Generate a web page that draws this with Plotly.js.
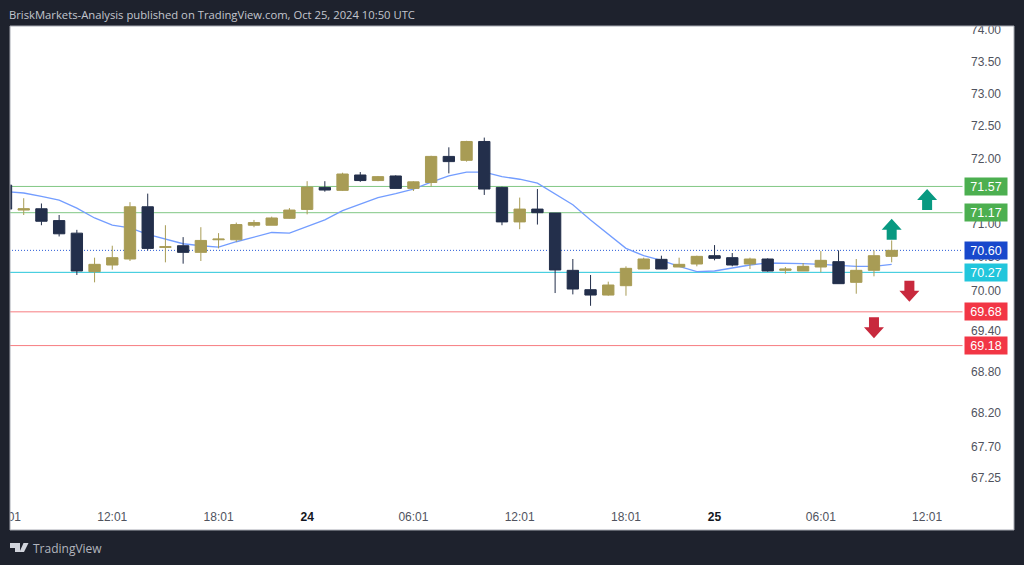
<!DOCTYPE html>
<html><head><meta charset="utf-8">
<script src="https://cdn.plot.ly/plotly-3.0.1.min.js"></script>
<style>html,body{margin:0;padding:0;background:#1e222d}#c{width:1024px;height:565px}</style>
</head><body><div id="c"></div>
<script>
const categories = [
"10-23 06:01","10-23 07:01","10-23 08:01","10-23 09:01","10-23 10:01","10-23 11:01","10-23 12:01","10-23 13:01","10-23 14:01","10-23 15:01","10-23 16:01","10-23 17:01","10-23 18:01","10-23 19:01","10-23 20:01","10-23 21:01","10-23 22:01",
"10-24 00:01","10-24 01:01","10-24 02:01","10-24 03:01","10-24 04:01","10-24 05:01","10-24 06:01","10-24 07:01","10-24 08:01","10-24 09:01","10-24 10:01","10-24 11:01","10-24 12:01","10-24 13:01","10-24 14:01","10-24 15:01","10-24 16:01","10-24 17:01","10-24 18:01","10-24 19:01","10-24 20:01","10-24 21:01","10-24 22:01",
"10-25 00:01","10-25 01:01","10-25 02:01","10-25 03:01","10-25 04:01","10-25 05:01","10-25 06:01","10-25 07:01","10-25 08:01","10-25 09:01","10-25 10:01","10-25 11:01","10-25 12:01","10-25 13:01","10-25 14:01","10-25 15:01","10-25 16:01","10-25 17:01","10-25 18:01"];
const barCount = 51;
const open  = [71.59,71.21,71.23,71.05,70.86,70.28,70.38,70.47,71.26,70.645,70.67,70.57,70.76,70.76,70.98,70.98,71.085,71.22,71.555,71.51,71.745,71.66,71.73,71.54,71.63,72.03,71.97,72.26,71.555,71.03,71.225,71.165,70.30,70.01,69.93,70.07,70.32,70.465,70.35,70.395,70.52,70.49,70.395,70.47,70.30,70.29,70.35,70.43,70.12,70.30,70.51];
const high  = [71.60,71.39,71.31,71.135,70.91,70.49,70.67,71.33,71.46,70.98,70.80,70.95,70.86,71.02,71.06,71.11,71.24,71.65,71.65,71.78,71.79,71.73,71.74,71.65,72.04,72.17,72.27,72.32,71.565,71.40,71.53,71.165,70.47,70.23,70.13,70.36,70.49,70.52,70.49,70.52,70.68,70.56,70.49,70.48,70.35,70.41,70.59,70.60,70.47,70.60,70.75];
const low   = [71.21,71.135,70.98,70.81,70.23,70.12,70.31,70.44,70.60,70.42,70.40,70.44,70.63,70.73,70.95,70.98,71.08,71.145,71.49,71.50,71.64,71.65,71.54,71.50,71.57,71.77,71.95,71.44,70.98,70.92,70.99,69.96,69.94,69.77,69.92,69.92,70.32,70.32,70.35,70.36,70.45,70.36,70.32,70.28,70.25,70.29,70.27,70.10,69.95,70.21,70.42];
const close = [71.225,71.23,71.04,70.85,70.29,70.39,70.49,71.26,70.63,70.655,70.57,70.75,70.77,70.99,71.02,71.09,71.21,71.56,71.515,71.76,71.66,71.72,71.54,71.64,72.03,71.95,72.26,71.53,71.03,71.225,71.17,70.305,70.02,69.93,70.08,70.33,70.47,70.32,70.39,70.51,70.48,70.38,70.47,70.29,70.32,70.36,70.45,70.10,70.30,70.52,70.60];
const ema   = [71.49,71.47,71.42,71.36,71.24,71.09,70.98,70.94,70.84,70.77,70.70,70.67,70.65,70.73,70.80,70.87,70.86,70.96,71.06,71.20,71.30,71.40,71.46,71.53,71.635,71.73,71.79,71.79,71.72,71.68,71.62,71.46,71.29,71.06,70.84,70.63,70.52,70.45,70.36,70.28,70.29,70.34,70.38,70.41,70.41,70.40,70.39,70.37,70.36,70.36,70.39];
const levels = [71.57,71.17,70.60,70.27,69.68,69.18];
const levelColors = ["#81c784","#81c784","#2a5bd7","#26c6da","#f77c80","#f77c80"];
const tagColors = ["#4caf50","#4caf50","#1848cc","#22c6dc","#f23645","#f23645"];
const yTicks = [74,73.5,73,72.5,72,71,70.5,70,69.4,68.8,68.2,67.7,67.25];
const xTickCats = ["10-23 06:01","10-23 12:01","10-23 18:01","10-24 00:01","10-24 06:01","10-24 12:01","10-24 18:01","10-25 00:01","10-25 06:01","10-25 12:01"];
const xTickText = ["06:01","12:01","18:01","<b style='color:#131722'>24</b>","06:01","12:01","18:01","<b style='color:#131722'>25</b>","06:01","12:01"];
const arrowCats = ["10-25 10:01","10-25 12:01","10-25 11:01","10-25 09:01"];
const arrowTips = [71.08,71.53,69.83,69.29];
const arrowDirs = [1,1,-1,-1];

const DARK="#1e222d", W=1024, H=565, T=26, B=530;
const bx=x=>x/W, by=y=>(B-y)/(B-T);
const rect=(x0,y0,x1,y1,fill,line)=>({type:'rect',xref:'paper',yref:'paper',layer:'above',x0:bx(x0),x1:bx(x1),y0:by(y0),y1:by(y1),fillcolor:fill,line:{width:line?1:0,color:line||fill}});
const poly=(pts,fill)=>({type:'path',xref:'paper',yref:'paper',layer:'above',fillcolor:fill,line:{width:0},path:'M'+pts.map(p=>bx(p[0])+','+by(p[1])).join('L')+'Z'});
const arrowPath=d=>'M0,0L10,'+(-11*d)+'L5,'+(-11*d)+'L5,'+(-21*d)+'L-5,'+(-21*d)+'L-5,'+(-11*d)+'L-10,'+(-11*d)+'Z';

const endCat = categories[54];
const traces = levels.map((v,i)=>({type:'scatter',mode:'lines',x:[categories[0],endCat],y:[v,v],hoverinfo:'skip',
  line:{color:levelColors[i],width:1,dash:v===70.60?'1px,2px':'solid'}}));
traces.push({type:'scatter',mode:'lines',x:categories.slice(0,barCount),y:ema,line:{color:'#739dff',width:1.3},hoverinfo:'skip'});
traces.push({type:'candlestick',x:categories.slice(0,barCount),open,high,low,close,whiskerwidth:0,zorder:1,
  increasing:{line:{color:'#a89c55',width:1},fillcolor:'#a89c55'},
  decreasing:{line:{color:'#232f4b',width:1},fillcolor:'#232f4b'}});

const annotations = levels.map((v,i)=>({xref:'paper',yref:'y',x:bx(964),y:Math.log10(v),xanchor:'left',yanchor:'middle',text:v.toFixed(2),showarrow:false,
  bgcolor:tagColors[i],width:40,height:15,borderpad:1,font:{family:'Liberation Sans',size:12.5,color:'#fff'},align:'center'}));
annotations.push({xref:'paper',yref:'paper',x:bx(6.5),y:by(14),xanchor:'left',yanchor:'middle',showarrow:false,align:'left',
  text:'BriskMarkets-Analysis published on TradingView.com, Oct 25, 2024 10:50 UTC',font:{family:'Open Sans',size:11.25,color:'#c3c6ce'}});
annotations.push({xref:'paper',yref:'paper',x:bx(31),y:by(548),xanchor:'left',yanchor:'middle',showarrow:false,align:'left',
  text:'TradingView',font:{family:'Open Sans',size:12,color:'#b2b5be'}});

const shapes=[rect(0,0,10,565,DARK),rect(1014,0,1024,565,DARK),rect(0,0,1024,26,DARK),rect(0,530,1024,565,DARK),
  rect(10,26,1014,530,'rgba(0,0,0,0)','#a6a9b2'),
  poly([[10,543],[20,543],[20,552],[15,552],[15,548],[10,548]],'#d1d4dc'),
  poly([[23.5,543],[28.5,543],[24,552],[19.5,552]],'#d1d4dc')];
arrowCats.forEach((c,i)=>shapes.push({type:'path',layer:'above',xref:'x',yref:'y',xsizemode:'pixel',ysizemode:'pixel',xanchor:c,yanchor:arrowTips[i],
  path:arrowPath(arrowDirs[i]),fillcolor:arrowDirs[i]>0?'#089981':'#c8293d',line:{width:0}}));

Plotly.newPlot('c',traces,{
  width:W,height:H,showlegend:false,paper_bgcolor:DARK,plot_bgcolor:'#fff',boxgap:0.2,boxgroupgap:0.2,
  margin:{l:0,r:0,t:T,b:H-B,pad:0},
  font:{family:'Liberation Sans',size:12,color:'#50535e'},
  xaxis:{type:'category',categoryorder:'array',categoryarray:categories,range:[-0.3387,57.47],autorange:false,rangeslider:{visible:false},
    showgrid:false,zeroline:false,showline:false,ticks:'',tickmode:'array',tickvals:xTickCats,ticktext:xTickText,ticklabelposition:'inside',ticklabeloverflow:'allow',ticklabelstandoff:4,tickangle:0,tickfont:{size:12,color:'#50535e'},fixedrange:true},
  yaxis:{type:'log',side:'right',range:[Math.log10(66.51),Math.log10(74.063)],autorange:false,showgrid:false,zeroline:false,showline:false,ticks:'',
    tickmode:'array',tickvals:yTicks,ticktext:yTicks.map(v=>v.toFixed(2)),ticklabelposition:'inside',ticklabeloverflow:'allow',ticklabelstandoff:20,tickfont:{size:12,color:'#50535e'},fixedrange:true},
  shapes,annotations
},{displayModeBar:false,staticPlot:true});
</script></body></html>
